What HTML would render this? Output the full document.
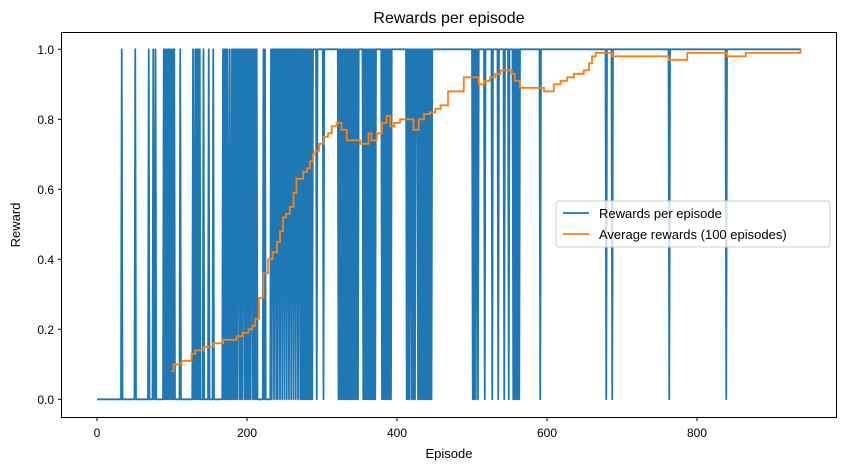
<!DOCTYPE html>
<html><head><meta charset="utf-8"><style>
body{margin:0;background:#fff;}
svg{display:block;font-family:"Liberation Sans","DejaVu Sans",sans-serif;}
</style></head><body>
<svg id="chart" width="846" height="470" xmlns="http://www.w3.org/2000/svg">
<rect width="846" height="470" fill="#fff"/>
<text x="449" y="23" text-anchor="middle" font-size="16" fill="#000">Rewards per episode</text>
<g id="plot"></g>
<g id="axes"></g>
<text x="449" y="458" text-anchor="middle" font-size="13" fill="#000">Episode</text>
<text transform="translate(20,225) rotate(-90)" text-anchor="middle" font-size="13" fill="#000">Reward</text>
<g>
<rect x="556" y="201" width="274" height="46" rx="3" fill="#fff" fill-opacity="0.8" stroke="#ccc"/>
<line x1="563" y1="213" x2="589" y2="213" stroke="#1f77b4" stroke-width="1.8"/>
<text x="599" y="218" font-size="13">Rewards per episode</text>
<line x1="563" y1="234" x2="589" y2="234" stroke="#ff7f0e" stroke-width="1.8"/>
<text x="599" y="239" font-size="13">Average rewards (100 episodes)</text>
</g>
</svg>
<script>
const episodeCount = 939;
const switchEpisode = 213;
const earlyWins = [33,51,69,75,78,89,91,93,95,97,99,101,103,111,128,131,133,135,137,142,149,155,168,170,172,174,177,180,182,184,186,188,189,191,193,195,196,198,200,202,204,206,207,209,211];
const lateLosses = [214,215,216,217,218,219,220,221,223,225,226,227,228,229,230,231,233,236,239,241,244,247,250,253,256,259,262,265,268,271,273,275,277,279,281,283,285,287,293,302,322,324,326,328,330,332,334,336,338,340,342,344,346,348,355,357,359,361,363,365,367,369,371,380,382,384,386,388,390,392,413,415,417,420,422,424,428,430,432,434,436,438,440,442,444,446,501,503,505,508,517,527,535,543,549,555,557,559,561,563,591,679,687,763,839];
const avgEpisodes = [99,102,113,126,131,142,155,168,178,186,194,202,207,211,216,222,228,234,240,244,248,252,257,262,266,271,275,280,284,288,291,296,302,308,313,320,326,333,349,351,362,366,373,380,386,391,396,404,413,422,429,436,444,451,458,462,468,480,489,500,509,516,524,531,538,549,553,557,564,591,596,602,609,618,627,636,649,656,660,665,679,687,762,780,787,838,840,865,938];
const avgValues = [0.08,0.10,0.11,0.13,0.14,0.15,0.16,0.17,0.17,0.18,0.19,0.20,0.21,0.23,0.29,0.36,0.40,0.42,0.45,0.48,0.52,0.53,0.55,0.59,0.63,0.63,0.65,0.66,0.68,0.70,0.71,0.73,0.75,0.76,0.78,0.79,0.77,0.74,0.74,0.73,0.76,0.74,0.76,0.79,0.81,0.78,0.79,0.80,0.80,0.77,0.80,0.815,0.82,0.83,0.84,0.84,0.88,0.88,0.92,0.92,0.90,0.91,0.92,0.93,0.94,0.94,0.93,0.91,0.89,0.89,0.88,0.88,0.90,0.91,0.92,0.93,0.94,0.96,0.98,0.99,0.99,0.98,0.97,0.97,0.99,0.99,0.98,0.99,1.0];
const xTicks = [0,200,400,600,800];
const yTicks = [0,0.2,0.4,0.6,0.8,1.0];

const NS = "http://www.w3.org/2000/svg";
const X0 = 97, XS = 0.75, Y0 = 399.3, YS = 350;
const sx = v => X0 + v * XS;
const sy = v => Y0 - v * YS;
const plot = document.getElementById('plot');
const axes = document.getElementById('axes');

const rewards = [];
for (let i = 0; i <= episodeCount; i++) rewards.push(i < switchEpisode ? 0 : 1);
earlyWins.forEach(e => { rewards[e] = 1; });
lateLosses.forEach(e => { rewards[e] = 0; });

let d = '';
rewards.forEach((r, i) => { d += (i ? 'L' : 'M') + sx(i).toFixed(2) + ',' + sy(r).toFixed(2); });
const rp = document.createElementNS(NS, 'path');
rp.setAttribute('d', d);
rp.setAttribute('fill', 'none');
rp.setAttribute('stroke', '#1f77b4');
rp.setAttribute('stroke-width', '1.8');
rp.setAttribute('stroke-linejoin', 'round');


plot.appendChild(rp);

let d2 = '';
avgEpisodes.forEach((e, i) => {
  if (i === 0) d2 += 'M' + sx(e).toFixed(2) + ',' + sy(avgValues[i]).toFixed(2);
  else d2 += 'H' + sx(e).toFixed(2) + 'V' + sy(avgValues[i]).toFixed(2);
});
const ap = document.createElementNS(NS, 'path');
ap.setAttribute('d', d2);
ap.setAttribute('fill', 'none');
ap.setAttribute('stroke', '#ff7f0e');
ap.setAttribute('stroke-width', '1.8');


plot.appendChild(ap);

const frame = document.createElementNS(NS, 'rect');
frame.setAttribute('x', 61.5); frame.setAttribute('y', 32.5);
frame.setAttribute('width', 775); frame.setAttribute('height', 385);
frame.setAttribute('fill', 'none'); frame.setAttribute('stroke', '#000'); frame.setAttribute('stroke-width', '1');


axes.appendChild(frame);

xTicks.forEach(t => {
  const l = document.createElementNS(NS, 'line');
  l.setAttribute('x1', sx(t)); l.setAttribute('x2', sx(t)); l.setAttribute('y1', 417.5); l.setAttribute('y2', 421);
  l.setAttribute('stroke', '#000');
  
  
  axes.appendChild(l);
  const tx = document.createElementNS(NS, 'text');
  tx.setAttribute('x', sx(t)); tx.setAttribute('y', 437); tx.setAttribute('text-anchor', 'middle'); tx.setAttribute('font-size', '12');
  tx.textContent = t;
  
  
  axes.appendChild(tx);
});
yTicks.forEach(t => {
  const l = document.createElementNS(NS, 'line');
  l.setAttribute('x1', 58); l.setAttribute('x2', 61.5); l.setAttribute('y1', sy(t)); l.setAttribute('y2', sy(t));
  l.setAttribute('stroke', '#000');
  
  
  axes.appendChild(l);
  const tx = document.createElementNS(NS, 'text');
  tx.setAttribute('x', 54); tx.setAttribute('y', sy(t) + 4.5); tx.setAttribute('text-anchor', 'end'); tx.setAttribute('font-size', '12');
  tx.textContent = t.toFixed(1);
  
  
  axes.appendChild(tx);
});
</script>
</body></html>
